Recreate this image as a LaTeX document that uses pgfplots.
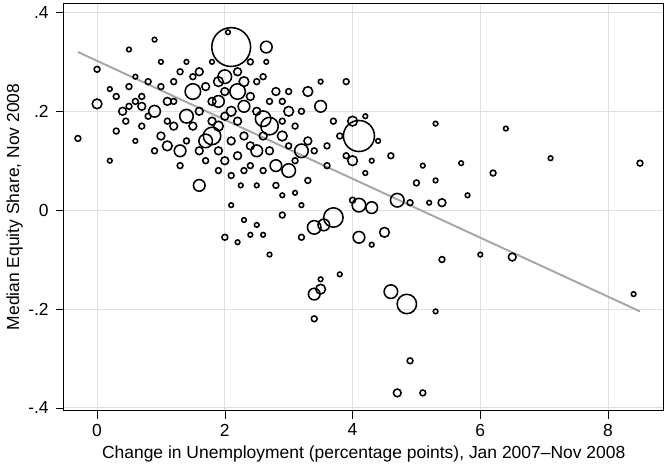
\documentclass[border=0pt]{standalone}
\usepackage{pgfplots}
\pgfplotsset{compat=1.18}
\usepackage{fontspec}
\setmainfont{Liberation Sans}
\pgfplotstableread{
x y s
2.1 0.33 10
4.1 0.15 8
4.85 -0.19 5
3.7 -0.015 5
2.65 0.33 3
1.6 0.05 3
4.6 -0.165 3.5
3.4 -0.035 3.5
3.55 -0.03 3
3.4 -0.17 3
3.5 -0.16 2.5
4.1 0.01 3.5
4.3 0.005 3
4.7 0.02 3.5
4.1 -0.055 3
4.5 -0.045 2.5
3.0 0.08 3.5
2.8 0.09 3
3.5 0.21 3
3.2 0.12 3.5
4.0 0.18 2.5
4.0 0.1 2.5
2.7 0.17 4.5
2.6 0.185 4
1.8 0.15 4.5
1.5 0.24 4
1.7 0.14 3.5
1.3 0.12 3
1.4 0.19 3.5
2.2 0.24 4
2.5 0.12 3
0.0 0.215 2.5
0.9 0.2 3
1.1 0.13 2.5
2.0 0.27 3.5
2.3 0.21 3
1.9 0.22 3
3.3 0.24 2.5
3.0 0.2 2.5
2.9 0.15 2.5
-0.3 0.145 1.5
0.0 0.285 1.5
7.1 0.105 1.2
8.5 0.095 1.5
8.4 -0.17 1.2
6.5 -0.095 2
6.4 0.165 1.2
6.2 0.075 1.5
6.0 -0.09 1.2
5.8 0.03 1.2
5.7 0.095 1.2
5.4 -0.1 1.5
5.4 0.015 2
5.3 -0.205 1.2
5.1 -0.37 1.5
4.7 -0.37 2
4.9 -0.305 1.5
5.0 0.055 1.5
5.3 0.06 1.2
5.2 0.015 1.2
5.1 0.09 1.2
4.9 0.015 1.5
4.3 -0.07 1.2
4.2 0.075 1.2
4.0 0.02 1.5
3.8 -0.13 1.2
3.4 -0.22 1.5
3.5 -0.14 1.2
3.2 -0.055 1.5
2.9 -0.01 1.5
2.7 -0.09 1.2
2.5 -0.03 1.2
2.3 -0.02 1.2
2.2 -0.065 1.2
2.0 -0.055 1.5
2.1 0.01 1.2
2.25 0.05 1.2
3.1 0.035 1.2
3.6 0.09 1.5
3.9 0.26 1.5
3.5 0.26 1.2
5.3 0.175 1.2
2.6 0.27 1.5
2.65 0.3 1.2
1.8 0.3 1.2
2.05 0.36 1.2
0.9 0.345 1.2
0.5 0.325 1.2
0.2 0.245 1.2
0.3 0.23 1.5
0.5 0.25 1.5
0.6 0.22 1.5
0.7 0.21 2
0.8 0.19 1.5
0.4 0.2 2
0.45 0.18 1.5
0.3 0.16 1.5
0.2 0.1 1.2
0.6 0.14 1.2
0.7 0.17 1.5
1.0 0.25 1.5
1.1 0.22 2
1.2 0.26 1.5
1.0 0.3 1.2
1.3 0.28 1.5
1.4 0.3 1.2
1.6 0.28 2
1.7 0.25 2
1.8 0.22 2
1.9 0.26 2.5
2.0 0.24 2
2.1 0.2 2.5
2.2 0.18 2
2.3 0.26 2.5
2.4 0.23 2
2.5 0.2 2
2.6 0.15 2
2.8 0.24 2
2.9 0.22 1.5
3.0 0.24 1.5
3.1 0.17 1.5
3.2 0.2 1.5
3.3 0.14 2
3.4 0.12 1.5
3.6 0.13 1.5
3.7 0.18 1.5
3.8 0.15 1.5
3.9 0.11 1.5
4.2 0.19 1.2
4.4 0.14 1.2
4.6 0.11 1.5
4.3 0.1 1.2
1.5 0.17 2
1.6 0.2 2
1.2 0.17 2
1.1 0.18 1.5
1.0 0.15 2
0.9 0.12 1.5
1.3 0.09 1.5
1.7 0.1 1.5
1.9 0.12 2
2.0 0.1 2
2.2 0.11 2
2.4 0.09 1.5
2.6 0.08 1.5
2.7 0.12 2
2.8 0.05 1.5
3.0 0.13 1.5
3.3 0.06 1.5
1.9 0.17 2.5
2.1 0.14 2
2.3 0.15 2
2.4 0.13 2
2.0 0.19 2
1.8 0.18 2
1.6 0.12 2
1.4 0.14 1.5
0.8 0.26 1.5
0.6 0.27 1.2
0.7 0.23 1.5
0.5 0.21 1.5
1.2 0.22 1.5
1.5 0.27 1.5
2.2 0.28 2
2.4 0.3 1.5
2.5 0.26 1.5
2.7 0.22 1.5
2.9 0.18 1.5
3.1 0.1 1.5
2.1 0.07 1.5
1.9 0.08 1.5
2.3 0.08 1.5
2.5 0.05 1.2
2.9 0.03 1.2
3.2 0.01 1.2
2.4 -0.05 1.2
2.6 -0.05 1.2
}\pts
\begin{document}
\begin{tikzpicture}
\begin{axis}[
  scale only axis, width=309pt, height=210pt,
  xmin=-0.52, xmax=8.87, ymin=-0.406, ymax=0.419,
  xtick={0,2,4,6,8}, ytick={-0.4,-0.2,0,0.2,0.4},
  yticklabels={-.4,-.2,0,.2,.4},
  xtick pos=left, ytick pos=left,
  grid=major, major grid style={gray!25},
  tick align=outside, tick style={black},
  tick label style={font=\small},
  xticklabel style={yshift=1pt},
  label style={font=\small},
  /pgf/number format/assume math mode=true,
  xlabel={Change in Unemployment (percentage points), Jan 2007--Nov 2008},
  ylabel={Median Equity Share, Nov 2008},
  xlabel style={yshift=2pt}, ylabel style={yshift=-4pt},
  axis line style={black},
]
\addplot[only marks, mark=o, black, line width=0.8pt,
  visualization depends on={\thisrow{s}\as\sz},
  scatter, scatter/use mapped color={draw=black},
  scatter/@pre marker code/.append style={/tikz/mark size=\sz pt}]
  table[x=x,y=y,meta=s] {\pts};
\addplot[gray!70, line width=1pt] coordinates {(-0.3,0.32) (8.5,-0.205)};
\end{axis}
\end{tikzpicture}
\end{document}
